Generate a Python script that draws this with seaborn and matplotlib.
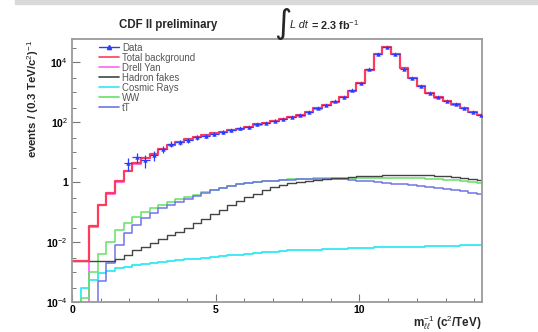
import numpy as np
import pandas as pd
import matplotlib
matplotlib.use("Agg")
import matplotlib.pyplot as plt
from matplotlib.lines import Line2D
from matplotlib.patches import Rectangle
from matplotlib.ticker import FixedLocator, FuncFormatter
import seaborn as sns

# ---------------- data (log10 of events per bin, bins of 0.3 c^2/TeV) ----------------
bin_edges = [round(0.3 * i, 1) for i in range(49)]   # 0.0 ... 14.4
NONE = -8.0  # empty bin (below the axis)

total_bkg_log10 = [-2.63, -2.63, -1.45, -0.75, -0.38, 0.03, 0.38, 0.62, 0.80, 0.95,
                   1.10, 1.23, 1.33, 1.42, 1.50, 1.56, 1.62, 1.67, 1.73, 1.78,
                   1.84, 1.92, 1.98, 2.04, 2.10, 2.17, 2.22, 2.34, 2.46, 2.57,
                   2.68, 2.84, 3.05, 3.31, 3.75, 4.27, 4.50, 4.27, 3.79, 3.47,
                   3.20, 2.98, 2.82, 2.70, 2.59, 2.47, 2.34, 2.23]

drell_yan_log10 = [NONE, NONE, -1.49, -0.77, -0.40, 0.01, 0.37, 0.61, 0.79, 0.94,
                   1.09, 1.22, 1.32, 1.41, 1.49, 1.55, 1.61, 1.66, 1.72, 1.77,
                   1.83, 1.91, 1.97, 2.03, 2.09, 2.16, 2.21, 2.33, 2.45, 2.56,
                   2.67, 2.83, 3.04, 3.30, 3.75, 4.27, 4.50, 4.27, 3.79, 3.47,
                   3.19, 2.97, 2.81, 2.69, 2.58, 2.46, 2.33, 2.22]

hadron_fakes_log10 = [-2.63, -2.63, -2.63, -2.63, -2.63, -2.55, -2.42, -2.27, -2.15, -2.03,
                      -1.90, -1.78, -1.66, -1.53, -1.38, -1.22, -1.06, -0.92, -0.76, -0.62,
                      -0.50, -0.39, -0.27, -0.18, -0.10, -0.04, 0.01, 0.05, 0.08, 0.11,
                      0.13, 0.15, 0.17, 0.19, 0.20, 0.21, 0.22, 0.23, 0.23, 0.23,
                      0.23, 0.22, 0.21, 0.19, 0.17, 0.14, 0.10, 0.07]

cosmic_rays_log10 = [NONE, -3.54, -3.27, -3.04, -2.95, -2.88, -2.82, -2.77, -2.73, -2.69,
                     -2.66, -2.63, -2.60, -2.58, -2.55, -2.52, -2.49, -2.47, -2.44, -2.42,
                     -2.39, -2.37, -2.34, -2.32, -2.30, -2.28, -2.27, -2.26, -2.25, -2.24,
                     -2.23, -2.22, -2.21, -2.20, -2.19, -2.18, -2.18, -2.17, -2.16, -2.15,
                     -2.15, -2.14, -2.13, -2.13, -2.12, -2.11, -2.11, -2.10]

ww_log10 = [NONE, -3.87, -3.00, -2.40, -1.99, -1.60, -1.35, -1.15, -0.99, -0.87,
            -0.76, -0.66, -0.58, -0.50, -0.42, -0.33, -0.25, -0.19, -0.13, -0.08,
            -0.04, 0.00, 0.03, 0.05, 0.07, 0.09, 0.10, 0.11, 0.12, 0.13,
            0.13, 0.14, 0.14, 0.14, 0.14, 0.14, 0.14, 0.14, 0.13, 0.13,
            0.12, 0.11, 0.10, 0.08, 0.06, 0.03, 0.00, -0.04]

ttbar_log10 = [NONE, NONE, NONE, -3.30, -2.70, -2.10, -1.70, -1.42, -1.20, -1.02,
               -0.88, -0.76, -0.65, -0.55, -0.45, -0.35, -0.26, -0.19, -0.13, -0.08,
               -0.04, 0.00, 0.03, 0.05, 0.07, 0.08, 0.09, 0.10, 0.10, 0.10,
               0.10, 0.09, 0.07, 0.05, 0.02, 0.00, -0.02, -0.05, -0.08, -0.11,
               -0.14, -0.17, -0.20, -0.23, -0.27, -0.31, -0.35, -0.40]

# observed data: first filled bin is index 6
data_first_bin = 6
data_log10 = [0.65, 0.84, 0.73, 0.90, 1.10, 1.27, 1.33, 1.40, 1.50, 1.55,
              1.61, 1.68, 1.72, 1.80, 1.83, 1.93, 1.97, 2.05, 2.11, 2.16,
              2.24, 2.33, 2.47, 2.56, 2.70, 2.83, 3.06, 3.30, 3.76, 4.26,
              4.51, 4.28, 3.78, 3.48, 3.19, 2.97, 2.83, 2.69, 2.60, 2.46,
              2.35, 2.24]

series_names = ["Total background", "Drell Yan", "Hadron fakes", "Cosmic Rays", "WW", "tT"]
y_tick_values = [1e-4, 1e-2, 1, 1e2, 1e4]
y_tick_labels = ["10$^{-4}$", "10$^{-2}$", "1", "10$^{2}$", "10$^{4}$"]
x_tick_values = [0, 5, 10]

# ---------------- styling ----------------
sns.set_style("ticks")
plt.rcParams["font.family"] = ["Liberation Sans", "DejaVu Sans"]
plt.rcParams["mathtext.fontset"] = "custom"
plt.rcParams["mathtext.rm"] = "Liberation Sans"
plt.rcParams["mathtext.it"] = "Liberation Sans:italic"
plt.rcParams["mathtext.bf"] = "Liberation Sans:bold"

W, H = 538, 332
fig = plt.figure(figsize=(W / 100, H / 100), dpi=100)
fig.patch.set_facecolor("white")
ax_l, ax_r, ax_t, ax_b = 72, 482, 39, 302
ax = fig.add_axes([ax_l / W, 1 - ax_b / H, (ax_r - ax_l) / W, (ax_b - ax_t) / H])

edges = np.array(bin_edges)
centers = 0.5 * (edges[:-1] + edges[1:])

colors = {
    "Data": "#2b3cff",
    "Total background": "#ff3b5c",
    "Drell Yan": "#ff66f0",
    "Hadron fakes": "#444444",
    "Cosmic Rays": "#33e8f5",
    "WW": "#66e066",
    "tT": "#6f74e8",
}
widths = {"Total background": 1.6, "Drell Yan": 1.3, "Hadron fakes": 1.0,
          "Cosmic Rays": 1.3, "WW": 1.1, "tT": 1.1}

series = {
    "Drell Yan": drell_yan_log10,
    "Cosmic Rays": cosmic_rays_log10,
    "WW": ww_log10,
    "tT": ttbar_log10,
    "Hadron fakes": hadron_fakes_log10,
    "Total background": total_bkg_log10,
}
for name, vals in series.items():
    df = pd.DataFrame({"x": centers, "w": np.power(10.0, np.array(vals))})
    sns.histplot(data=df, x="x", weights="w", bins=list(bin_edges), element="step",
                 fill=False, color=colors[name], linewidth=widths[name], ax=ax)

# data points with sqrt(N) errors
dcent = centers[data_first_bin:data_first_bin + len(data_log10)]
dval = np.power(10.0, np.array(data_log10))
derr = np.sqrt(dval)
ax.errorbar(dcent, dval, yerr=derr, xerr=0.15, fmt="none", ecolor=colors["Data"],
            elinewidth=0.9, zorder=5)
sns.scatterplot(x=dcent, y=dval, marker="^", s=10, color=colors["Data"],
                edgecolor=colors["Data"], linewidth=0, ax=ax, zorder=6)

ax.set_yscale("log")
ax.set_xlim(0, 14.27)
ax.set_ylim(1e-4, 10 ** 4.77)
ax.set_xlabel("")
ax.set_ylabel("")

ax.yaxis.set_major_locator(FixedLocator(y_tick_values))
ax.yaxis.set_major_formatter(FuncFormatter(lambda v, p: y_tick_labels[y_tick_values.index(v)] if v in y_tick_values else ""))
minor_y = [10.0 ** k for k in range(-3, 5, 2)] + [3 * 10.0 ** k for k in range(-4, 5)]
ax.yaxis.set_minor_locator(FixedLocator(minor_y))
ax.yaxis.set_minor_formatter(FuncFormatter(lambda v, p: ""))
ax.xaxis.set_major_locator(FixedLocator(x_tick_values))
ax.xaxis.set_minor_locator(FixedLocator(list(range(1, 15))))
ax.xaxis.set_major_formatter(FuncFormatter(lambda v, p: f"{int(v)}"))

ax.tick_params(which="both", direction="in", colors="#777777", labelcolor="black",
               labelsize=7.5, top=False, right=False)
ax.tick_params(which="major", length=6, width=0.8)
ax.tick_params(which="minor", length=3, width=0.7)
ax.tick_params(axis="y", pad=3)
ax.tick_params(axis="x", pad=2)
for lab in ax.get_xticklabels() + ax.get_yticklabels():
    lab.set_fontweight("bold")
for s in ax.spines.values():
    s.set_color("#9a9a9a")
    s.set_linewidth(1.3)
    s.set_visible(True)

# legend
handles = [Line2D([0], [0], color=colors["Data"], lw=1.0, marker="^", ms=3)]
labels = ["Data"]
for name in series_names:
    handles.append(Line2D([0], [0], color=colors[name], lw=1.2))
    labels.append(name)
leg = ax.legend(handles, labels, loc="upper left", frameon=False,
                bbox_to_anchor=(22 / 410, 1.0 + 1 / 263), borderpad=0.0,
                handlelength=2.1, handletextpad=0.35, labelspacing=0.0, fontsize=6.9)
for t in leg.get_texts():
    t.set_color("#555555")

# titles / labels
fig.text(168 / W, 1 - 25 / H, "CDF II preliminary", ha="center", va="center",
         fontsize=8.3, fontweight="bold")
fig.text(283 / W, 1 - 23 / H, "\u222B", ha="center", va="center", fontsize=24,
         family=["DejaVu Sans"])
fig.text(290 / W, 1 - 25 / H, "L dt", ha="left", va="center", fontsize=7.8,
         style="italic")
fig.text(311 / W, 1 - 25 / H, "= 2.3 fb$^{-1}$", ha="left", va="center", fontsize=7.8,
         fontweight="bold")
fig.text(33 / W, 1 - 40 / H, "events / (0.3 TeV/c$^{2}$)$^{-1}$", rotation=90,
         ha="center", va="top", fontsize=8.2, fontweight="bold")
fig.text(482 / W, 1 - 323 / H, "m$^{-1}_{\\ell\\ell}$ (c$^{2}$/TeV)", ha="right",
         va="center", fontsize=8.4, fontweight="bold")

# grey strip along top edge
fig.patches.append(Rectangle((15 / W, 1 - 3.5 / H), 1, 3.5 / H, transform=fig.transFigure,
                             color="#d9d9d9", zorder=-1))

fig.savefig("out.png", dpi=100)
